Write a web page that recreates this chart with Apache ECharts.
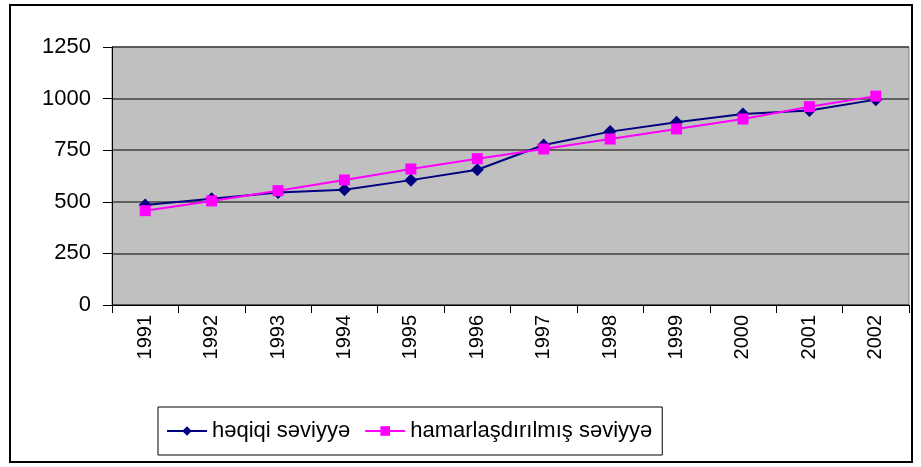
<!DOCTYPE html>
<html>
<head>
<meta charset="utf-8">
<script src="https://cdn.jsdelivr.net/npm/echarts@6/dist/echarts.min.js"></script>
<style>
  html, body { margin: 0; padding: 0; background: #fff; }
  #chart { width: 921px; height: 467px; }
</style>
</head>
<body>
<div id="chart"></div>
<script>
// illər
var years = ["1991", "1992", "1993", "1994", "1995", "1996", "1997", "1998", "1999", "2000", "2001", "2002"];
// faktiki səviyyə
var actual = [485, 515, 545, 558, 605, 655, 775, 840, 885, 925, 942, 995];
// hamarlanmış səviyyə
var smoothed = [457, 504, 554, 606, 659, 709, 756, 804, 853, 901, 961, 1012];

var chart = echarts.init(document.getElementById("chart"));

var option = {
  animation: false,
  textStyle: { fontFamily: "Liberation Sans, Arial, sans-serif" },
  graphic: [
    {
      type: "rect",
      shape: { x: 10, y: 5, width: 902, height: 457 },
      style: { fill: "none", stroke: "#000", lineWidth: 2 },
      z: 100
    }
  ],
  grid: {
    left: 112,
    top: 47,
    right: 12,
    bottom: 162,
    show: true,
    backgroundColor: "#c0c0c0",
    borderColor: "#808080",
    borderWidth: 1
  },
  legend: {
    orient: "horizontal",
    left: 158,
    top: 407,
    padding: [13, 10, 13, 8],
    itemGap: 14,
    itemWidth: 40,
    itemHeight: 12,
    borderColor: "#000",
    borderWidth: 1,
    textStyle: { fontSize: 22, color: "#000", fontFamily: "Liberation Sans, Arial, sans-serif" },
    data: ["həqiqi səviyyə", "hamarlaşdırılmış səviyyə"]
  },
  xAxis: {
    type: "category",
    data: years,
    boundaryGap: true,
    axisLine: { lineStyle: { color: "#000", width: 1 } },
    axisTick: { show: true, length: 8, lineStyle: { color: "#000" } },
    axisLabel: { rotate: 90, margin: 10, fontSize: 20, color: "#000" }
  },
  yAxis: {
    type: "value",
    min: 0,
    max: 1250,
    interval: 250,
    axisLine: { show: true, lineStyle: { color: "#000", width: 1 } },
    axisTick: { show: true, length: 9, lineStyle: { color: "#000" } },
    axisLabel: {
      fontSize: 22,
      color: "#000",
      margin: 21,
      formatter: function (v) { return String(v); }
    },
    splitLine: { lineStyle: { color: "#404040", width: 1.5 } }
  },
  series: [
    {
      name: "həqiqi səviyyə",
      type: "line",
      data: actual,
      symbol: "diamond",
      symbolSize: 13,
      lineStyle: { color: "#000080", width: 2 },
      itemStyle: { color: "#000080" },
      z: 2
    },
    {
      name: "hamarlaşdırılmış səviyyə",
      type: "line",
      data: smoothed,
      symbol: "rect",
      symbolSize: 11,
      lineStyle: { color: "#ff00ff", width: 2 },
      itemStyle: { color: "#ff00ff" },
      z: 3
    }
  ]
};

option && chart.setOption(option);
</script>
</body>
</html>
